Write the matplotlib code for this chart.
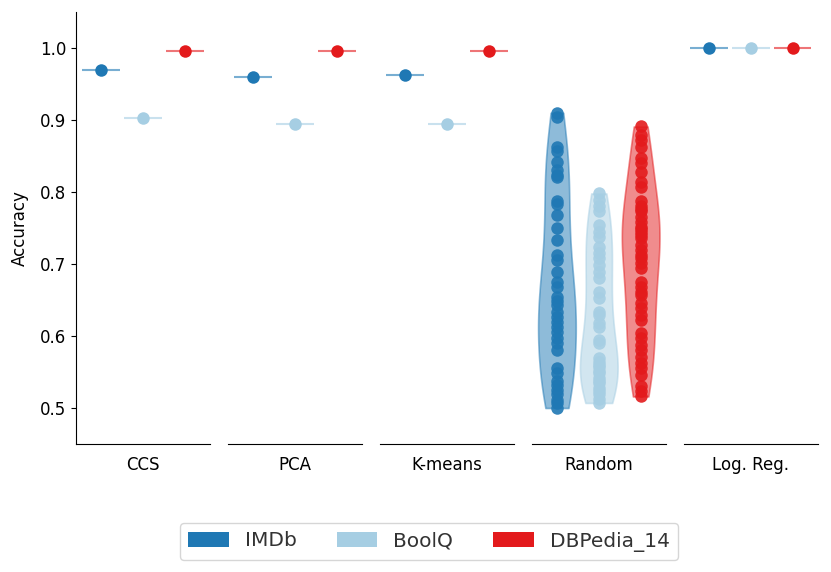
import numpy as np
import matplotlib
matplotlib.use('Agg')
import matplotlib.pyplot as plt
from matplotlib.patches import Patch

methods = ['CCS', 'PCA', 'K-means', 'Random', 'Log. Reg.']
datasets = ['IMDb', 'BoolQ', 'DBPedia_14']
colors = ['#1f78b4', '#a6cee3', '#e31a1c']

# single accuracy per dataset for the deterministic methods
ccs_acc = [0.969, 0.903, 0.996]
pca_acc = [0.960, 0.895, 0.996]
kmeans_acc = [0.962, 0.894, 0.996]
logreg_acc = [1.000, 1.000, 1.000]

# random directions, one accuracy per run
random_imdb = [0.910, 0.904, 0.863, 0.857, 0.842, 0.830, 0.824, 0.821, 0.787, 0.783,
               0.768, 0.750, 0.733, 0.712, 0.706, 0.689, 0.675, 0.668, 0.654, 0.648,
               0.643, 0.634, 0.627, 0.620, 0.613, 0.606, 0.597, 0.590, 0.581, 0.555,
               0.548, 0.537, 0.532, 0.525, 0.520, 0.511, 0.507, 0.500]
random_boolq = [0.798, 0.789, 0.780, 0.773, 0.754, 0.745, 0.738, 0.724, 0.715, 0.708,
                0.699, 0.689, 0.680, 0.661, 0.653, 0.634, 0.629, 0.618, 0.613, 0.594,
                0.590, 0.569, 0.564, 0.560, 0.557, 0.552, 0.548, 0.542, 0.538, 0.535,
                0.528, 0.524, 0.520, 0.513, 0.507]
random_dbpedia = [0.891, 0.879, 0.872, 0.863, 0.847, 0.840, 0.828, 0.814, 0.807, 0.787,
                  0.780, 0.776, 0.773, 0.765, 0.759, 0.752, 0.748, 0.745, 0.740, 0.736,
                  0.726, 0.719, 0.712, 0.708, 0.701, 0.695, 0.675, 0.668, 0.661, 0.657,
                  0.646, 0.639, 0.629, 0.622, 0.604, 0.597, 0.588, 0.581, 0.571, 0.562,
                  0.555, 0.546, 0.530, 0.523, 0.516]

positions = [-1, 0, 1]
violin_width = 0.9


def drawSingle(ax, values):
    for pos, val, col in zip(positions, values, colors):
        ax.hlines(val, pos - violin_width / 2, pos + violin_width / 2,
                  color=col, alpha=0.6, lw=1.5, zorder=1)
        ax.plot(pos, val, 'o', color=col, ms=9, mec='none', zorder=3)


def drawViolins(ax, groups):
    parts = ax.violinplot(groups, positions=positions, widths=violin_width,
                          showextrema=False)
    for body, col in zip(parts['bodies'], colors):
        body.set_facecolor(col)
        body.set_edgecolor(col)
        body.set_linewidth(1.2)
        body.set_alpha(0.5)
    for pos, vals, col in zip(positions, groups, colors):
        ax.plot([pos] * len(vals), vals, 'o', color=col, ms=9, mec='none',
                alpha=0.9, zorder=3)


def main():
    fig, axes = plt.subplots(1, 5, figsize=(8.31, 5.72), dpi=100, sharey=True)
    fig.subplots_adjust(left=0.0915, right=0.984, top=0.979, bottom=0.2238,
                        wspace=0.134)

    single = {'CCS': ccs_acc, 'PCA': pca_acc, 'K-means': kmeans_acc,
              'Log. Reg.': logreg_acc}

    for ax, m in zip(axes, methods):
        if m == 'Random':
            drawViolins(ax, [random_imdb, random_boolq, random_dbpedia])
        else:
            drawSingle(ax, single[m])
        ax.set_xlim(-1.6, 1.6)
        ax.set_xticks([])
        ax.set_xlabel(m, fontsize=12, labelpad=9)
        ax.spines['top'].set_visible(False)
        ax.spines['right'].set_visible(False)
        if ax is not axes[0]:
            ax.spines['left'].set_visible(False)
            ax.tick_params(axis='y', left=False, labelleft=False)

    axes[0].set_ylim(0.45, 1.05)
    axes[0].set_yticks([0.5, 0.6, 0.7, 0.8, 0.9, 1.0])
    axes[0].tick_params(axis='y', labelsize=12)
    axes[0].set_ylabel('Accuracy', fontsize=12, labelpad=8)

    handles = [Patch(facecolor=c, label=d) for c, d in zip(colors, datasets)]
    fig.legend(handles=handles, loc='center', ncol=3, fontsize=14.5,
               labelcolor='#333333', handleheight=0.8,
               bbox_to_anchor=(429 / 831, 1 - 541.5 / 572))

    fig.savefig('out.png', dpi=100)


main()
